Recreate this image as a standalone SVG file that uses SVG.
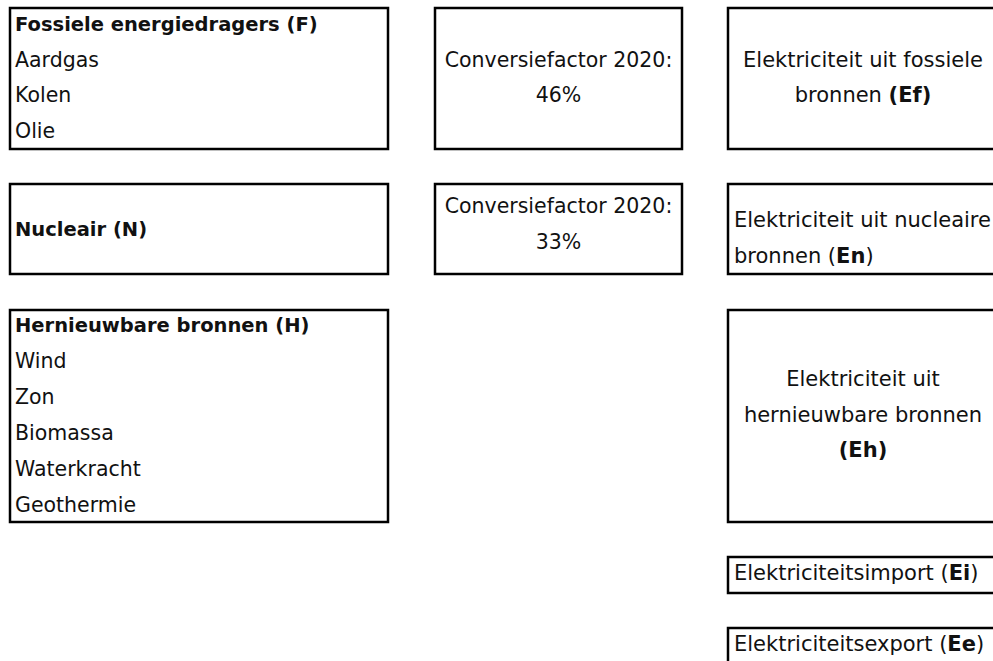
<svg xmlns="http://www.w3.org/2000/svg" width="993" height="661" viewBox="0 0 993 661">
<style>
  .box { fill: #ffffff; stroke: #000000; stroke-width: 2.5; }
  text { font-family: "DejaVu Sans", "Liberation Sans", sans-serif; font-size: 20.5px; fill: #111111; }
  .b { font-weight: bold; font-size: 19.5px; }
  .c { text-anchor: middle; }
  .r { font-size: 21px; }
  tspan.bb { font-weight: bold; }
</style>
<rect width="993" height="661" fill="#ffffff"/>
<g id="connectors"></g>

<g id="node-fossiel">
  <rect class="box" x="10" y="8" width="378" height="141"/>
  <text class="b" x="15" y="31">Fossiele energiedragers (F)</text>
  <text x="15" y="67">Aardgas</text>
  <text x="15" y="102">Kolen</text>
  <text x="15" y="138">Olie</text>
</g>

<g id="node-conv-fossiel">
  <rect class="box" x="435" y="8" width="247" height="141"/>
  <text class="c" x="558.5" y="67">Conversiefactor 2020:</text>
  <text class="c" x="558.5" y="102">46%</text>
</g>

<g id="node-ef">
  <rect class="box" x="728" y="8" width="272" height="141"/>
  <text class="c r" x="863" y="67">Elektriciteit uit fossiele</text>
  <text class="c r" x="863" y="102">bronnen <tspan class="bb">(Ef)</tspan></text>
</g>

<g id="node-nucleair">
  <rect class="box" x="10" y="184" width="378" height="90"/>
  <text class="b" x="15" y="236">Nucleair (N)</text>
</g>

<g id="node-conv-nucleair">
  <rect class="box" x="435" y="184" width="247" height="90"/>
  <text class="c" x="558.5" y="213">Conversiefactor 2020:</text>
  <text class="c" x="558.5" y="249">33%</text>
</g>

<g id="node-en">
  <rect class="box" x="728" y="184" width="272" height="90"/>
  <text class="r" x="734" y="227">Elektriciteit uit nucleaire</text>
  <text class="r" x="734" y="263">bronnen (<tspan class="bb">En</tspan>)</text>
</g>

<g id="node-hernieuwbaar">
  <rect class="box" x="10" y="310" width="378" height="212"/>
  <text class="b" x="15" y="332">Hernieuwbare bronnen (H)</text>
  <text x="15" y="368">Wind</text>
  <text x="15" y="404">Zon</text>
  <text x="15" y="440">Biomassa</text>
  <text x="15" y="476">Waterkracht</text>
  <text x="15" y="512">Geothermie</text>
</g>

<g id="node-eh">
  <rect class="box" x="728" y="310" width="272" height="212"/>
  <text class="c r" x="863" y="386">Elektriciteit uit</text>
  <text class="c r" x="863" y="422">hernieuwbare bronnen</text>
  <text class="c r" x="863" y="457"><tspan class="bb">(Eh)</tspan></text>
</g>

<g id="node-ei">
  <rect class="box" x="728" y="557" width="272" height="36"/>
  <text class="r" x="734" y="580">Elektriciteitsimport (<tspan class="bb">Ei</tspan>)</text>
</g>

<g id="node-ee">
  <rect class="box" x="728" y="628" width="272" height="60"/>
  <text class="r" x="734" y="651">Elektriciteitsexport (<tspan class="bb">Ee</tspan>)</text>
</g>
</svg>
